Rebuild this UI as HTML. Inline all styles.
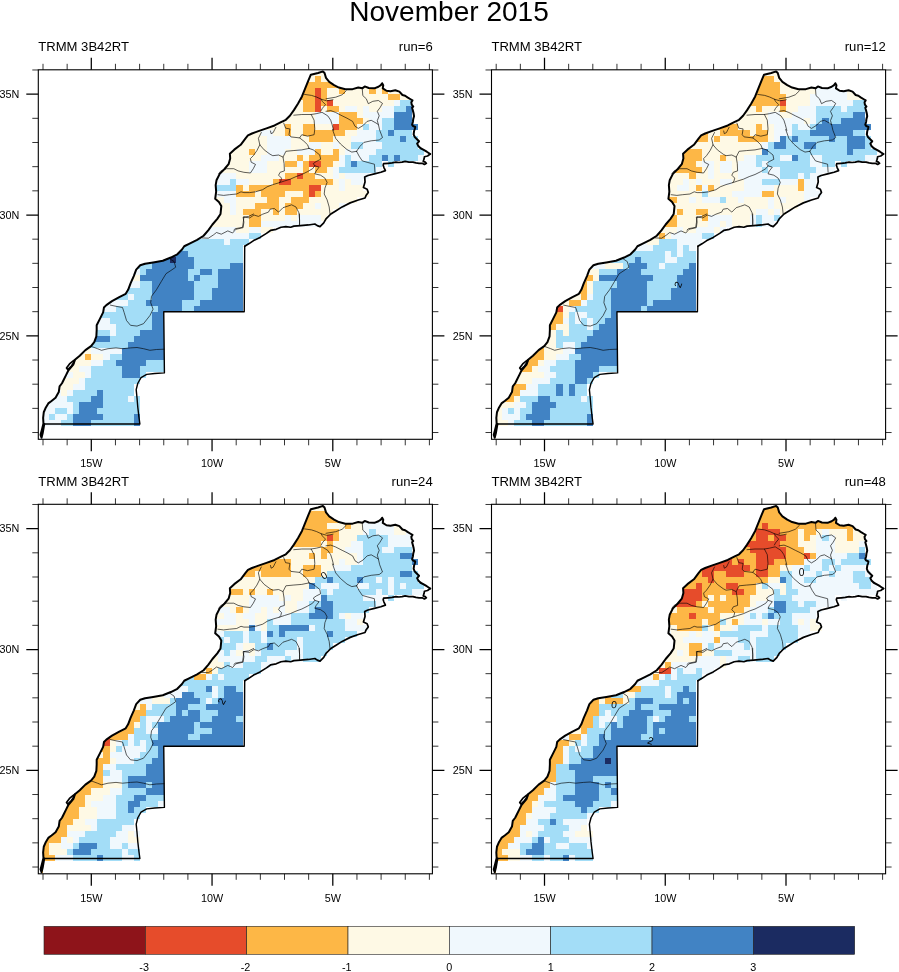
<!DOCTYPE html>
<html><head><meta charset="utf-8"><title>November 2015</title>
<style>html,body{margin:0;padding:0;background:#fff}svg{display:block}text{font-family:"Liberation Sans",Arial,Helvetica,sans-serif;fill:#000}.t{font-size:13.1px}.l{font-size:10.8px}.mj{stroke:#000;stroke-width:1.25;fill:none}.mn{stroke:#000;stroke-width:.8;fill:none}</style></head><body>
<svg width="899" height="972" viewBox="0 0 899 972">
<rect width="899" height="972" fill="#fff"/>
<defs>
<clipPath id="mk"><path d="M41.5,437.7 40.5,434.8 41.8,430 43.5,423.5 43.1,417.9 43.8,412.3 45.9,407.4 48.3,403.4 51.5,401 55.5,397.7 58.8,392.1 59.6,386.5 62,383.2 63.6,380 66,375.2 68.5,370.3 73.3,364.7 74.9,359.8 79.7,355.8 85.4,350.2 91,346.1 94.3,342.1 96.4,336.5 96.7,330 96.7,325.3 99.9,318.8 103.1,312.4 103.9,307.5 106.4,305.1 112,301.1 119.3,297.1 125.7,293.8 128.1,289.8 130.5,283.4 133.8,276.1 136.2,269.6 140.2,265.3 145.1,263.7 153.1,262.4 162.8,260.8 170.9,257.5 177.3,254.3 182,249.5 184.2,246.3 189.1,243.8 197.1,239.8 203.6,235.8 208.4,230.1 212.5,224.5 217.3,218.8 220.5,214 221.3,206.1 218.9,202.1 215.2,198.8 216.2,191.6 215.7,185.1 216.5,180.3 219.7,173.8 224.5,169 228.6,164.2 230.2,158.5 229.9,153.7 234.2,149.6 240.7,144.8 245.5,138.4 247.9,135.5 252,133.5 258.4,131.1 266.5,128.4 274.5,125.5 281,122.2 285.8,119.8 289.9,115.8 293.9,110.1 297.9,103.7 302,96.4 305.2,88.4 308.4,80.3 310.8,74.6 318.1,73 322.9,71.4 324.5,73 326,77.9 329.2,81.9 334.1,85.1 338.9,87.5 345.4,89.2 352.6,89.2 358.3,87.5 362.3,88.4 364.7,86.4 368.7,88 374.4,88.4 378.4,86.7 380.8,85.1 382.1,83.2 383.3,85.1 382.8,88.4 386.5,90.8 390.5,91.3 395.4,90.3 399.4,91.6 402.5,95 405.1,95.8 407.5,97.3 410.5,99.2 412.5,100.4 446,100 446,452 41,452Z"/></clipPath>
<g id="ax"><path class="mn" d="M43,69.8v-6 M43,439.3v6 M67.15,69.8v-6 M67.15,439.3v6 M115.45,69.8v-6 M115.45,439.3v6 M139.6,69.8v-6 M139.6,439.3v6 M163.75,69.8v-6 M163.75,439.3v6 M187.9,69.8v-6 M187.9,439.3v6 M236.2,69.8v-6 M236.2,439.3v6 M260.35,69.8v-6 M260.35,439.3v6 M284.5,69.8v-6 M284.5,439.3v6 M308.65,69.8v-6 M308.65,439.3v6 M356.95,69.8v-6 M356.95,439.3v6 M381.1,69.8v-6 M381.1,439.3v6 M405.25,69.8v-6 M405.25,439.3v6 M429.4,69.8v-6 M429.4,439.3v6 M38.3,432.53h-6 M432.4,432.53h6 M38.3,408.36h-6 M432.4,408.36h6 M38.3,384.19h-6 M432.4,384.19h6 M38.3,360.02h-6 M432.4,360.02h6 M38.3,311.68h-6 M432.4,311.68h6 M38.3,287.51h-6 M432.4,287.51h6 M38.3,263.34h-6 M432.4,263.34h6 M38.3,239.17h-6 M432.4,239.17h6 M38.3,190.83h-6 M432.4,190.83h6 M38.3,166.66h-6 M432.4,166.66h6 M38.3,142.49h-6 M432.4,142.49h6 M38.3,118.32h-6 M432.4,118.32h6 M38.3,69.98h-6 M432.4,69.98h6"/><path class="mj" d="M91.3,69.8v-12 M91.3,439.3v12 M212.05,69.8v-12 M212.05,439.3v12 M332.8,69.8v-12 M332.8,439.3v12 M38.3,335.85h-12 M432.4,335.85h12 M38.3,215h-12 M432.4,215h12 M38.3,94.15h-12 M432.4,94.15h12"/><rect x="38.3" y="69.8" width="394.1" height="369.5" fill="none" stroke="#000" stroke-width="1.1"/></g>
<g id="ol" fill="none" stroke="#000" stroke-linejoin="round" stroke-linecap="round">
<path d="M44.26,424.03 43.77,426.77 42.65,433.23 41.52,437.74 40.55,434.84 41.84,430 43.45,423.55 43.13,417.9 43.77,412.26 45.87,407.42 48.29,403.39 51.52,400.97 55.55,397.74 58.77,392.1 59.58,386.45 62,383.23 63.61,380 66.03,375.16 68.45,370.32 73.29,364.68 74.9,359.84 79.74,355.81 85.39,350.16 91.03,346.13 94.26,342.1 96.35,336.45 96.68,330 96.68,325.29 99.9,318.84 103.13,312.39 103.94,307.55 106.35,305.13 112,301.1 119.26,297.06 125.71,293.84 128.13,289.81 130.55,283.35 133.77,276.1 136.19,269.65 140.23,265.29 145.06,263.68 153.13,262.39 162.81,260.77 170.87,257.55 177.32,254.32 182,249.48 184.23,246.26 189.06,243.84 197.13,239.81 203.58,235.77 208.42,230.13 212.45,224.48 217.29,218.84 220.52,214 221.32,206.1 218.9,202.06 215.19,198.84 216.16,191.58 215.68,185.13 216.48,180.29 219.71,173.84 224.55,169 228.58,164.16 230.19,158.52 229.87,153.68 234.23,149.65 240.68,144.81 245.52,138.35 247.94,135.45 251.97,133.52 258.42,131.1 266.48,128.35 274.55,125.45 281,122.23 285.84,119.81 289.87,115.77 293.9,110.13 297.94,103.68 301.97,96.42 305.19,88.35 308.42,80.29 310.84,74.65 318.1,73.03 322.94,71.42 324.55,73.03 326,77.87 329.23,81.9 334.06,85.13 338.9,87.55 345.35,89.16 352.61,89.16 358.26,87.55 362.29,88.35 364.71,86.42 368.74,88.03 374.39,88.35 378.42,86.74 380.84,85.13 382.13,83.19 383.26,85.13 382.77,88.35 386.48,90.77 390.52,91.26 395.35,90.29 399.39,91.58 402.45,95 405.15,95.77 407.47,97.32 410.55,99.24 412.48,100.4 411.32,102.32 411.71,104.65 413.26,106.58 412.1,107.73 412.87,110.44 413.63,113.52 414.02,116.23 413.26,118.92 412.87,122 412.1,124.71 412.87,125.87 415.18,127.02 414.79,128.95 414.02,131.26 413.63,134.35 414.79,137.05 416.73,138.98 419.03,141.29 417.11,143.61 418.26,145.92 420.58,148.24 423.66,149.79 426.76,151.71 430.23,154.03" stroke-width="2.0"/>
<path d="M430.23,154.03 427.53,155.95 424.44,156.73 424.05,159.05 423.27,161.35 425.21,162.13 426.37,163.29 424.44,164.45 422.13,163.29 419.03,163.29 415.95,162.9 412.87,162.13 409,162.13 405.15,161.35 402.06,162.13 398.97,162.52 395.89,162.13 392.03,162.9 388.18,163.29 383.55,163.68 383.16,165.21 383.94,167.53 385.08,169.84 385.35,170.61 380.84,172.23 374.39,173.84 367.94,175.45 364.71,177.06 365.03,181.9 363.42,187.55 367.13,189.16 368.26,192.39 366,195.61 365.03,198.03 358.26,199.97 350.19,202.87 342.13,206.9 335.68,210.94 330.84,214 326,218.84 323.74,222.87 320.03,226.58 317.29,225.61 314.87,224 308.42,224.97 300.35,225.61 293.9,226.1 290.68,227.23 285.84,226.58 281,227.23 276.16,229.32 270.52,230.45 266.48,233.35 260.03,237.39 253.58,240.61 248.74,243.84 244.71,246.26" stroke-width="1.7"/>
<path d="M244.71,246.26 244.24,311.68 163.75,311.68 164.42,372.9 154.74,373.55 146.68,374.35 141.03,377.58 137.81,383.23 136.19,389.68 137,397.74 137.81,407.42 138.94,417.1 139.9,424.03 44.26,424.03" stroke-width="1.4"/>
<path d="M74.6,359.9 73.2,360.9 69.5,363.9 66.5,367.9 67.7,369.6 71.4,366.1 73.9,362.5Z" stroke-width="1.7"/>
<path d="M293.8,115.2 301.8,114.5 311.2,114.5 314.1,120.2 314.8,128.9 314.1,134.7 307.6,136.2 301.8,134.7 299.6,137.9 M283.7,123.1 285.6,128.2 289.9,128.9 289,134.7 290.9,136.9 299.6,137.9 303.9,141.2 307.6,144.8 309,148.4 M309,148.4 301.8,149.9 293.1,150.6 285.9,151.3 283,157.1 284.1,163.6 284.4,170.9 280.1,172.3 278.6,175.2 281.5,178.1 280.8,181 279.4,182.7 M217.9,194.7 223.7,195.4 229.5,194.7 236.7,194 241,191.8 243.9,192.6 249.7,192.6 255.5,191.8 262.7,189.7 267.1,186.8 272.8,184.6 279.4,182.7 284.4,181 290.2,179.2 296,176.6 301.8,174.5 307.6,171.6 312.6,168.7 314.8,165.8 313.3,163.6 316.2,161.5 320.6,159.3 319.8,155 316.2,152.1 313.3,149.9 309,148.4 M314.8,165.8 319.1,167.2 316.2,170.9 314.8,173.8 320.6,175.2 324.9,178.1 327.1,182.4 324.9,188.2 324.2,194 327.1,199.8 329.2,207 330,214.2 M261.3,132.5 258.4,138.3 259.8,144.8 264.2,149.9 270,154.2 272.8,155.7 278.6,155 283,157.1 M259.8,144.8 256.9,150.6 253.3,155.7 250.4,158.6 251.2,162.2 255.5,164.4 253.3,168.7 250.4,173 243.9,172.3 238.1,170.9 233.8,168.7 226.6,168.7 220.8,170.9 218.6,173.8 M243.9,217.1 249.7,217.9 254,215 258.4,216.4 262.7,214.2 268.5,212.1 270,209.2 274.3,208.5 278.6,212.1 283,207.7 287.3,206.3 291.6,204.8 296,207 298.9,212.8 299.6,220 299.6,224.4 M243.9,217.1 243.2,222.9 242.5,227.3 235.2,228.7 233.8,230 M311.2,114.5 316.2,113.7 322,112.3 327.8,115.9 330.7,120.2 332.1,124.6 333.6,130.4 M304.5,94.4 311.5,95.4 316.4,97 321.2,99.2 326.6,100.8 329.9,100.3 333,99.7 M321.2,99.2 322.3,101.4 325.5,104.6 322.3,108.4 321.2,110.5 M270.5,131 271.1,133.7 273.2,132.6 274.8,129.4 275.9,127.3 M326,111.3 330.8,110.6 335.7,112.5 342.1,115.8 347,118.2 352.6,121.4 355,126.3 358.3,128.4 363.1,125.5 367.1,121.4 371.2,120.3 376,123 378.4,124.6 M362.3,89.2 362.8,95.6 366.3,98.8 368.3,103.7 372.8,101.3 378.4,100.5 382.5,103.4 380,107.7 377.3,111.3 379.2,115.8 377.3,120.6 378.4,124.6 379.7,130.3 382.5,137.5 379.2,140 371.2,140.8 363.9,142.4 359.9,146.4 356.6,151.3 M326,98.8 335.7,97.2 342.1,94.8 346.2,90.8 M356.6,151.3 351.8,152.1 347,149.6 340.5,144 335.7,138.4 332.5,129.5 M356.6,151.3 359.1,156.1 362.3,160.9 367.9,162.5 374.4,164.2 374.9,172.2 M169.3,258.4 174.1,261.6 175.7,267.2 170.9,270.5 166,273.7 161.2,281.7 156.4,289.8 151.5,296.3 150.7,302.7 153.1,309.2 149.9,315.6 143.5,323.7 137,326.1 130.5,325.3 126.5,320.5 124.1,312.4 122.5,307.5 116,306.3 110.4,305.1 M91.8,346.6 97.5,348.7 101.5,350.3 108,348.7 116,347.9 122.5,348.7 130.5,347.9 137,347.5 143.5,348.7 149.9,350.3 156.4,349.5 164.1,349.2 M202,237.9 208.4,238.2 213.3,235 216.5,232.5 221.3,234.2 227.8,230.9 232.6,233 235.8,229.3 243.1,227.7 243.9,222.1 243.1,217.2 248.7,216.4 253.6,214 M299.5,214 299.5,225.3" fill="none" stroke="#000" stroke-width=".7" opacity=".9" stroke-linejoin="round"/>
</g>
</defs>
<text x="449" y="21.3" text-anchor="middle" font-size="28.05">November 2015</text>
<g transform="translate(0,0)">
<g clip-path="url(#mk)" shape-rendering="crispEdges">
<path fill="#FEF9E5" d="M309,69.98H327V76.02H309ZM303,76.02H315V82.06H303ZM303,202.92H315V208.96H303ZM321,76.02H333V82.06H321ZM321,142.49H333V154.57H321ZM351,82.06H369V88.11H351ZM376,82.06H382V94.15H376ZM327,88.11H339V94.15H327ZM345,88.11H369V94.15H345ZM388,88.11H406V94.15H388ZM327,94.15H388V100.19H327ZM400,94.15H412V100.19H400ZM291,100.19H303V112.28H291ZM291,124.36H303V136.45H291ZM333,100.19H394V106.24H333ZM321,106.24H327V112.28H321ZM321,215H327V221.04H321ZM339,106.24H345V112.28H339ZM339,148.53H345V154.57H339ZM339,172.7H345V178.75H339ZM357,106.24H363V118.32H357ZM357,124.36H363V130.41H357ZM369,106.24H382V112.28H369ZM285,112.28H315V118.32H285ZM273,118.32H315V124.36H273ZM363,118.32H369V124.36H363ZM255,124.36H285V130.41H255ZM315,124.36H333V130.41H315ZM315,172.7H333V178.75H315ZM243,130.41H261V136.45H243ZM273,130.41H285V136.45H273ZM345,130.41H357V136.45H345ZM236,136.45H267V142.49H236ZM236,196.87H267V202.92H236ZM291,136.45H309V148.53H291ZM333,136.45H351V142.49H333ZM230,142.49H267V148.53H230ZM339,142.49H351V148.53H339ZM230,148.53H249V154.57H230ZM255,148.53H267V154.57H255ZM285,148.53H297V154.57H285ZM224,154.57H261V160.62H224ZM279,154.57H297V160.62H279ZM303,154.57H309V160.62H303ZM224,160.62H249V166.66H224ZM267,160.62H285V166.66H267ZM333,160.62H339V166.66H333ZM333,178.75H339V184.79H333ZM218,166.66H249V172.7H218ZM267,166.66H303V172.7H267ZM309,166.66H315V172.7H309ZM327,166.66H333V172.7H327ZM236,172.7H285V178.75H236ZM249,178.75H273V184.79H249ZM345,178.75H351V184.79H345ZM243,184.79H249V190.83H243ZM321,184.79H339V190.83H321ZM321,202.92H339V208.96H321ZM345,184.79H363V190.83H345ZM255,190.83H261V196.87H255ZM285,190.83H303V196.87H285ZM321,190.83H369V196.87H321ZM212,196.87H224V202.92H212ZM279,196.87H291V202.92H279ZM309,196.87H357V202.92H309ZM218,202.92H230V215H218ZM236,202.92H255V208.96H236ZM279,202.92H285V215H279ZM236,208.96H243V215H236ZM261,208.96H273V215H261ZM261,227.09H273V233.13H261ZM297,208.96H333V215H297ZM212,215H249V221.04H212ZM261,215H285V221.04H261ZM291,215H297V221.04H291ZM206,221.04H249V227.09H206ZM236,227.09H249V233.13H236ZM128,275.43H140V281.47H128ZM79,347.94H91V353.98H79ZM73,353.98H85V360.02H73ZM73,372.11H85V378.15H73ZM91,353.98H103V360.02H91ZM67,360.02H91V366.06H67ZM67,366.06H79V372.11H67ZM61,378.15H79V384.19H61ZM55,384.19H73V390.23H55ZM61,390.23H67V396.28H61Z"/>
<path fill="#FDB746" d="M315,76.02H321V82.06H315ZM315,148.53H321V154.57H315ZM315,190.83H321V196.87H315ZM303,82.06H345V88.11H303ZM303,130.41H345V136.45H303ZM369,82.06H376V94.15H369ZM382,82.06H388V94.15H382ZM303,88.11H315V94.15H303ZM303,100.19H315V112.28H303ZM303,124.36H315V130.41H303ZM303,172.7H315V178.75H303ZM321,88.11H327V106.24H321ZM339,88.11H345V94.15H339ZM297,94.15H315V100.19H297ZM388,94.15H400V100.19H388ZM327,106.24H339V112.28H327ZM339,112.28H357V118.32H339ZM339,124.36H357V130.41H339ZM339,118.32H363V124.36H339ZM285,124.36H291V136.45H285ZM309,136.45H333V142.49H309ZM249,148.53H255V154.57H249ZM333,148.53H339V154.57H333ZM297,154.57H303V160.62H297ZM309,154.57H339V160.62H309ZM285,160.62H297V166.66H285ZM285,172.7H297V178.75H285ZM285,208.96H297V215H285ZM303,160.62H309V172.7H303ZM303,190.83H309V196.87H303ZM321,160.62H333V166.66H321ZM315,166.66H327V172.7H315ZM273,178.75H279V184.79H273ZM273,208.96H279V215H273ZM291,178.75H333V184.79H291ZM236,184.79H243V190.83H236ZM249,184.79H309V190.83H249ZM236,190.83H255V196.87H236ZM261,190.83H285V196.87H261ZM267,196.87H279V202.92H267ZM291,196.87H309V202.92H291ZM255,202.92H279V208.96H255ZM285,202.92H303V208.96H285ZM243,208.96H261V215H243ZM249,215H261V227.09H249ZM85,353.98H91V360.02H85Z"/>
<path fill="#E64C2B" d="M315,88.11H321V112.28H315ZM327,100.19H333V106.24H327ZM333,124.36H339V130.41H333ZM309,160.62H321V166.66H309ZM309,184.79H321V190.83H309ZM297,172.7H303V178.75H297ZM279,178.75H291V184.79H279ZM309,190.83H315V196.87H309Z"/>
<path fill="#F0F8FD" d="M394,100.19H400V106.24H394ZM345,106.24H357V112.28H345ZM363,106.24H369V112.28H363ZM382,106.24H394V112.28H382ZM315,112.28H339V124.36H315ZM363,112.28H394V118.32H363ZM369,118.32H382V130.41H369ZM261,130.41H273V136.45H261ZM357,130.41H376V136.45H357ZM267,136.45H291V148.53H267ZM351,136.45H376V142.49H351ZM309,142.49H321V148.53H309ZM333,142.49H339V148.53H333ZM333,166.66H339V178.75H333ZM363,142.49H382V148.53H363ZM267,148.53H285V154.57H267ZM297,148.53H315V154.57H297ZM345,148.53H376V154.57H345ZM261,154.57H279V160.62H261ZM339,154.57H345V166.66H339ZM339,178.75H345V190.83H339ZM339,202.92H345V208.96H339ZM351,154.57H369V160.62H351ZM418,154.57H424V160.62H418ZM249,160.62H267V172.7H249ZM297,160.62H303V166.66H297ZM376,166.66H382V172.7H376ZM212,172.7H236V178.75H212ZM212,190.83H236V196.87H212ZM345,172.7H369V178.75H345ZM212,178.75H230V184.79H212ZM236,178.75H249V184.79H236ZM351,178.75H363V184.79H351ZM224,196.87H236V202.92H224ZM230,202.92H236V215H230ZM315,202.92H321V208.96H315ZM285,215H291V221.04H285ZM297,215H321V221.04H297ZM261,221.04H321V227.09H261ZM206,227.09H236V233.13H206ZM249,227.09H261V233.13H249ZM194,233.13H249V239.17H194ZM224,239.17H230V245.21H224ZM134,269.38H140V275.43H134ZM128,281.47H140V287.51H128ZM110,293.55H116V299.6H110ZM110,329.81H116V335.85H110ZM128,293.55H134V299.6H128ZM128,396.28H134V402.32H128ZM103,299.6H128V305.64H103ZM103,305.64H116V311.68H103ZM97,317.72H110V323.77H97ZM91,323.77H116V329.81H91ZM91,347.94H122V353.98H91ZM103,353.98H110V360.02H103ZM91,360.02H103V366.06H91ZM79,366.06H91V372.11H79ZM61,372.11H73V378.15H61ZM85,372.11H91V378.15H85ZM79,378.15H85V384.19H79ZM73,384.19H85V390.23H73ZM55,390.23H61V396.28H55ZM67,390.23H73V396.28H67ZM67,408.36H73V414.4H67ZM49,396.28H67V402.32H49ZM43,402.32H73V408.36H43ZM43,408.36H55V414.4H43ZM43,414.4H49V420.45H43ZM55,414.4H67V420.45H55ZM37,420.45H61V426.49H37ZM37,426.49H43V438.57H37Z"/>
<path fill="#A3DDF7" d="M400,100.19H412V106.24H400ZM394,106.24H406V112.28H394ZM382,118.32H394V130.41H382ZM363,124.36H369V130.41H363ZM376,130.41H388V136.45H376ZM394,130.41H412V136.45H394ZM376,136.45H400V142.49H376ZM406,136.45H418V142.49H406ZM351,142.49H363V148.53H351ZM382,142.49H418V148.53H382ZM376,148.53H424V154.57H376ZM345,154.57H351V166.66H345ZM369,154.57H382V160.62H369ZM388,154.57H394V166.66H388ZM400,154.57H418V160.62H400ZM357,160.62H382V166.66H357ZM339,166.66H376V172.7H339ZM230,178.75H236V184.79H230ZM212,184.79H236V190.83H212ZM249,233.13H261V239.17H249ZM182,239.17H224V245.21H182ZM230,239.17H249V245.21H230ZM176,245.21H243V251.25H176ZM188,251.25H243V257.3H188ZM146,257.3H152V263.34H146ZM194,257.3H243V263.34H194ZM134,263.34H152V269.38H134ZM134,293.55H152V299.6H134ZM194,263.34H230V269.38H194ZM140,269.38H146V275.43H140ZM140,372.11H146V378.15H140ZM188,269.38H200V275.43H188ZM212,269.38H218V275.43H212ZM188,275.43H194V281.47H188ZM200,275.43H218V281.47H200ZM140,281.47H152V287.51H140ZM194,281.47H218V287.51H194ZM122,287.51H152V293.55H122ZM194,287.51H212V299.6H194ZM116,293.55H128V299.6H116ZM128,299.6H146V305.64H128ZM182,299.6H200V305.64H182ZM116,305.64H158V311.68H116ZM182,305.64H194V311.68H182ZM97,311.68H152V317.72H97ZM110,317.72H152V323.77H110ZM116,323.77H152V329.81H116ZM91,329.81H110V335.85H91ZM116,329.81H140V335.85H116ZM110,335.85H134V341.89H110ZM85,341.89H128V347.94H85ZM110,353.98H122V360.02H110ZM103,360.02H116V366.06H103ZM146,360.02H164V366.06H146ZM91,366.06H122V378.15H91ZM140,366.06H164V372.11H140ZM85,378.15H140V384.19H85ZM85,384.19H134V390.23H85ZM73,390.23H97V396.28H73ZM103,390.23H134V396.28H103ZM103,414.4H134V420.45H103ZM67,396.28H91V402.32H67ZM103,396.28H128V402.32H103ZM134,396.28H140V402.32H134ZM73,402.32H79V414.4H73ZM103,402.32H140V408.36H103ZM55,408.36H67V414.4H55ZM97,408.36H140V414.4H97ZM49,414.4H55V420.45H49ZM67,414.4H73V420.45H67ZM61,420.45H73V426.49H61ZM91,420.45H134V426.49H91Z"/>
<path fill="#4183C4" d="M406,106.24H412V112.28H406ZM394,112.28H412V124.36H394ZM394,124.36H418V130.41H394ZM388,130.41H394V136.45H388ZM400,136.45H406V142.49H400ZM382,154.57H388V160.62H382ZM394,154.57H400V160.62H394ZM351,160.62H357V166.66H351ZM170,251.25H188V257.3H170ZM152,257.3H170V263.34H152ZM176,257.3H194V263.34H176ZM152,263.34H194V269.38H152ZM152,281.47H194V299.6H152ZM230,263.34H243V269.38H230ZM146,269.38H188V275.43H146ZM200,269.38H212V275.43H200ZM218,269.38H243V287.51H218ZM140,275.43H188V281.47H140ZM194,275.43H200V281.47H194ZM212,287.51H243V299.6H212ZM146,299.6H182V305.64H146ZM200,299.6H243V305.64H200ZM158,305.64H182V311.68H158ZM194,305.64H243V311.68H194ZM152,311.68H164V329.81H152ZM140,329.81H164V335.85H140ZM91,335.85H110V341.89H91ZM134,335.85H164V341.89H134ZM128,341.89H164V347.94H128ZM122,347.94H164V360.02H122ZM116,360.02H146V366.06H116ZM122,366.06H140V378.15H122ZM97,390.23H103V396.28H97ZM91,396.28H103V402.32H91ZM79,402.32H103V408.36H79ZM79,408.36H97V414.4H79ZM73,414.4H103V420.45H73ZM134,414.4H140V426.49H134ZM73,420.45H91V426.49H73Z"/>
<path fill="#1B2B61" d="M170,257.3H176V263.34H170Z"/>
</g>
<use href="#ol"/>
<use href="#ax"/>
<text class="t" x="38.2" y="51.4">TRMM 3B42RT</text>
<text class="t" x="432.7" y="51.4" text-anchor="end">run=6</text>
<text class="l" x="19.3" y="97.95" text-anchor="end">35N</text>
<text class="l" x="19.3" y="218.8" text-anchor="end">30N</text>
<text class="l" x="19.3" y="339.65" text-anchor="end">25N</text>
<text class="l" x="91.3" y="467.3" text-anchor="middle">15W</text>
<text class="l" x="212.05" y="467.3" text-anchor="middle">10W</text>
<text class="l" x="332.8" y="467.3" text-anchor="middle">5W</text>
</g>
<g transform="translate(453.2,0)">
<g clip-path="url(#mk)" shape-rendering="crispEdges" transform="translate(-0.2,0)">
<path fill="#FEF9E5" d="M309,69.98H327V76.02H309ZM309,106.24H327V112.28H309ZM321,76.02H333V82.06H321ZM327,82.06H345V88.11H327ZM351,82.06H363V88.11H351ZM327,88.11H363V94.15H327ZM394,88.11H406V94.15H394ZM333,94.15H357V106.24H333ZM394,94.15H412V100.19H394ZM291,106.24H303V112.28H291ZM333,106.24H345V112.28H333ZM285,112.28H315V118.32H285ZM327,112.28H339V118.32H327ZM273,118.32H315V124.36H273ZM351,118.32H357V124.36H351ZM285,124.36H303V130.41H285ZM309,124.36H321V130.41H309ZM255,130.41H267V136.45H255ZM297,130.41H303V136.45H297ZM315,130.41H321V142.49H315ZM315,208.96H321V215H315ZM236,136.45H243V142.49H236ZM236,178.75H243V190.83H236ZM255,136.45H261V142.49H255ZM267,136.45H285V142.49H267ZM230,142.49H309V148.53H230ZM249,148.53H309V154.57H249ZM249,154.57H267V160.62H249ZM249,178.75H267V184.79H249ZM273,154.57H291V160.62H273ZM243,160.62H249V166.66H243ZM243,196.87H249V202.92H243ZM261,160.62H267V172.7H261ZM261,227.09H267V233.13H261ZM279,160.62H285V172.7H279ZM249,166.66H255V172.7H249ZM212,172.7H236V178.75H212ZM243,172.7H255V178.75H243ZM261,172.7H285V178.75H261ZM212,178.75H230V184.79H212ZM279,178.75H291V184.79H279ZM212,184.79H224V190.83H212ZM261,184.79H291V190.83H261ZM321,184.79H345V190.83H321ZM321,202.92H345V208.96H321ZM212,190.83H249V196.87H212ZM255,190.83H279V196.87H255ZM321,190.83H351V196.87H321ZM224,196.87H236V202.92H224ZM273,196.87H285V202.92H273ZM291,196.87H315V202.92H291ZM321,196.87H327V202.92H321ZM333,196.87H351V202.92H333ZM218,202.92H315V208.96H218ZM218,208.96H224V215H218ZM230,208.96H243V215H230ZM230,227.09H243V233.13H230ZM255,208.96H303V215H255ZM327,208.96H333V215H327ZM224,215H249V221.04H224ZM279,215H297V227.09H279ZM224,221.04H255V227.09H224ZM267,221.04H273V227.09H267ZM206,227.09H224V233.13H206ZM194,233.13H206V245.21H194ZM212,233.13H218V239.17H212ZM152,257.3H158V263.34H152ZM152,263.34H170V269.38H152ZM134,269.38H146V275.43H134ZM140,275.43H146V281.47H140ZM134,281.47H140V293.55H134ZM110,293.55H128V299.6H110ZM103,299.6H116V305.64H103ZM103,323.77H116V329.81H103ZM110,305.64H116V317.72H110ZM110,329.81H116V335.85H110ZM91,329.81H103V341.89H91ZM91,353.98H103V360.02H91ZM85,341.89H103V347.94H85ZM91,347.94H110V353.98H91ZM85,360.02H91V366.06H85ZM79,366.06H85V372.11H79ZM61,372.11H91V378.15H61ZM61,378.15H79V384.19H61ZM61,396.28H67V402.32H61ZM43,402.32H61V408.36H43ZM43,408.36H49V420.45H43ZM37,420.45H55V426.49H37ZM37,426.49H43V438.57H37Z"/>
<path fill="#FDB746" d="M303,76.02H321V82.06H303ZM303,82.06H327V94.15H303ZM297,94.15H333V100.19H297ZM291,100.19H327V106.24H291ZM303,106.24H309V112.28H303ZM303,124.36H309V130.41H303ZM327,106.24H333V112.28H327ZM255,124.36H285V130.41H255ZM243,130.41H255V142.49H243ZM243,208.96H255V215H243ZM267,130.41H297V136.45H267ZM303,130.41H315V136.45H303ZM261,136.45H267V142.49H261ZM285,136.45H315V142.49H285ZM230,148.53H249V154.57H230ZM224,154.57H249V160.62H224ZM267,154.57H273V160.62H267ZM224,160.62H243V166.66H224ZM218,166.66H249V172.7H218ZM236,172.7H243V178.75H236ZM345,178.75H351V190.83H345ZM243,184.79H249V190.83H243ZM255,184.79H261V190.83H255ZM309,190.83H321V196.87H309ZM212,196.87H224V202.92H212ZM212,215H224V221.04H212ZM224,208.96H230V215H224ZM249,215H255V221.04H249ZM206,221.04H224V227.09H206ZM206,233.13H212V239.17H206ZM128,275.43H140V281.47H128ZM128,281.47H134V287.51H128ZM128,293.55H134V299.6H128ZM122,287.51H134V293.55H122ZM116,299.6H128V305.64H116ZM97,311.68H110V323.77H97ZM91,323.77H103V329.81H91ZM79,347.94H91V353.98H79ZM73,353.98H91V360.02H73ZM67,360.02H85V366.06H67ZM67,366.06H79V372.11H67ZM55,384.19H73V390.23H55ZM55,390.23H67V396.28H55ZM49,396.28H61V402.32H49Z"/>
<path fill="#F0F8FD" d="M363,82.06H388V88.11H363ZM363,88.11H394V94.15H363ZM357,94.15H394V100.19H357ZM357,100.19H400V106.24H357ZM345,106.24H363V112.28H345ZM388,106.24H394V112.28H388ZM315,112.28H327V118.32H315ZM315,166.66H327V172.7H315ZM339,112.28H363V118.32H339ZM315,118.32H351V124.36H315ZM357,118.32H363V124.36H357ZM321,124.36H339V136.45H321ZM345,124.36H357V130.41H345ZM321,136.45H327V142.49H321ZM321,208.96H327V215H321ZM309,142.49H315V148.53H309ZM309,160.62H315V166.66H309ZM291,154.57H303V160.62H291ZM327,154.57H339V160.62H327ZM357,154.57H369V166.66H357ZM357,172.7H369V178.75H357ZM412,154.57H424V160.62H412ZM249,160.62H261V166.66H249ZM267,160.62H279V172.7H267ZM267,178.75H279V184.79H267ZM285,160.62H303V166.66H285ZM255,166.66H261V178.75H255ZM285,166.66H309V172.7H285ZM363,166.66H382V172.7H363ZM285,172.7H327V178.75H285ZM345,172.7H351V178.75H345ZM230,178.75H236V184.79H230ZM243,178.75H249V184.79H243ZM291,178.75H309V184.79H291ZM327,178.75H345V184.79H327ZM351,178.75H363V190.83H351ZM224,184.79H236V190.83H224ZM249,184.79H255V190.83H249ZM291,184.79H321V190.83H291ZM279,190.83H309V196.87H279ZM351,190.83H369V196.87H351ZM236,196.87H243V202.92H236ZM236,245.21H243V251.25H236ZM249,196.87H267V202.92H249ZM285,196.87H291V202.92H285ZM315,196.87H321V208.96H315ZM327,196.87H333V202.92H327ZM351,196.87H357V202.92H351ZM303,208.96H315V215H303ZM255,215H279V221.04H255ZM297,215H303V227.09H297ZM309,215H321V227.09H309ZM255,221.04H267V227.09H255ZM273,221.04H279V227.09H273ZM224,227.09H230V233.13H224ZM224,245.21H230V257.3H224ZM243,227.09H261V233.13H243ZM267,227.09H273V233.13H267ZM218,233.13H249V239.17H218ZM182,239.17H194V245.21H182ZM224,239.17H249V245.21H224ZM182,245.21H200V251.25H182ZM212,251.25H218V257.3H212ZM146,257.3H152V263.34H146ZM212,257.3H224V263.34H212ZM134,263.34H152V269.38H134ZM206,263.34H212V269.38H206ZM134,293.55H140V299.6H134ZM134,317.72H140V329.81H134ZM128,299.6H134V305.64H128ZM128,396.28H134V402.32H128ZM116,305.64H122V311.68H116ZM122,311.68H134V317.72H122ZM110,317.72H116V323.77H110ZM122,317.72H128V323.77H122ZM110,341.89H122V353.98H110ZM103,353.98H116V360.02H103ZM91,360.02H103V366.06H91ZM91,372.11H103V378.15H91ZM85,366.06H97V372.11H85ZM79,378.15H97V384.19H79ZM73,384.19H85V390.23H73ZM67,390.23H85V396.28H67ZM61,402.32H73V408.36H61ZM49,408.36H55V414.4H49ZM61,408.36H67V414.4H61ZM49,414.4H67V420.45H49ZM55,420.45H61V426.49H55Z"/>
<path fill="#E64C2B" d="M327,100.19H333V106.24H327ZM103,305.64H110V311.68H103Z"/>
<path fill="#A3DDF7" d="M400,100.19H412V106.24H400ZM400,130.41H412V136.45H400ZM363,106.24H388V112.28H363ZM394,106.24H412V112.28H394ZM363,112.28H400V118.32H363ZM363,118.32H369V124.36H363ZM376,118.32H388V124.36H376ZM339,124.36H345V130.41H339ZM357,124.36H363V130.41H357ZM339,130.41H357V136.45H339ZM333,136.45H339V142.49H333ZM345,136.45H376V142.49H345ZM382,136.45H394V142.49H382ZM412,136.45H418V148.53H412ZM315,142.49H321V148.53H315ZM333,142.49H351V148.53H333ZM363,142.49H394V148.53H363ZM315,148.53H394V154.57H315ZM400,148.53H424V154.57H400ZM303,154.57H327V160.62H303ZM345,154.57H357V160.62H345ZM369,154.57H412V160.62H369ZM303,160.62H309V166.66H303ZM303,215H309V227.09H303ZM315,160.62H357V166.66H315ZM369,160.62H382V166.66H369ZM388,160.62H394V166.66H388ZM309,166.66H315V172.7H309ZM327,166.66H363V172.7H327ZM327,172.7H345V178.75H327ZM351,172.7H357V178.75H351ZM309,178.75H327V184.79H309ZM249,190.83H255V196.87H249ZM267,196.87H273V202.92H267ZM321,215H327V221.04H321ZM249,233.13H261V239.17H249ZM206,239.17H224V245.21H206ZM176,245.21H182V251.25H176ZM200,245.21H224V251.25H200ZM200,275.43H224V281.47H200ZM230,245.21H236V251.25H230ZM170,251.25H212V257.3H170ZM218,251.25H224V257.3H218ZM230,251.25H243V257.3H230ZM158,257.3H182V263.34H158ZM188,257.3H212V263.34H188ZM224,257.3H243V263.34H224ZM170,263.34H176V269.38H170ZM194,263.34H206V269.38H194ZM212,263.34H236V269.38H212ZM146,269.38H164V275.43H146ZM146,366.06H164V372.11H146ZM188,269.38H230V275.43H188ZM140,281.47H164V287.51H140ZM194,281.47H224V287.51H194ZM140,287.51H158V299.6H140ZM194,287.51H218V299.6H194ZM134,299.6H158V305.64H134ZM134,311.68H158V317.72H134ZM194,299.6H200V305.64H194ZM122,305.64H158V311.68H122ZM188,305.64H194V311.68H188ZM116,311.68H122V323.77H116ZM128,317.72H134V323.77H128ZM140,317.72H152V323.77H140ZM116,323.77H134V329.81H116ZM140,323.77H146V329.81H140ZM140,372.11H146V378.15H140ZM103,329.81H110V335.85H103ZM103,341.89H110V347.94H103ZM116,329.81H140V335.85H116ZM103,335.85H134V341.89H103ZM122,341.89H128V347.94H122ZM116,353.98H128V360.02H116ZM103,360.02H122V366.06H103ZM103,372.11H122V378.15H103ZM97,366.06H122V372.11H97ZM97,378.15H122V384.19H97ZM134,378.15H140V384.19H134ZM134,396.28H140V402.32H134ZM85,384.19H103V396.28H85ZM110,384.19H116V396.28H110ZM122,384.19H134V396.28H122ZM67,396.28H85V402.32H67ZM97,396.28H128V402.32H97ZM73,402.32H79V408.36H73ZM103,402.32H140V408.36H103ZM55,408.36H61V414.4H55ZM67,408.36H79V414.4H67ZM97,408.36H140V414.4H97ZM67,414.4H73V420.45H67ZM97,414.4H134V420.45H97ZM61,420.45H79V426.49H61ZM91,420.45H134V426.49H91Z"/>
<path fill="#4183C4" d="M400,112.28H412V118.32H400ZM369,118.32H376V124.36H369ZM388,118.32H412V124.36H388ZM363,124.36H418V130.41H363ZM357,130.41H400V136.45H357ZM327,136.45H333V142.49H327ZM339,136.45H345V142.49H339ZM339,154.57H345V160.62H339ZM376,136.45H382V142.49H376ZM394,136.45H412V148.53H394ZM321,142.49H333V148.53H321ZM351,142.49H363V148.53H351ZM309,148.53H315V154.57H309ZM394,148.53H400V154.57H394ZM182,257.3H188V263.34H182ZM176,263.34H194V269.38H176ZM236,263.34H243V269.38H236ZM164,269.38H188V275.43H164ZM230,269.38H243V275.43H230ZM146,275.43H200V281.47H146ZM224,275.43H243V287.51H224ZM164,281.47H194V287.51H164ZM158,287.51H194V305.64H158ZM218,287.51H243V299.6H218ZM200,299.6H243V305.64H200ZM158,305.64H188V311.68H158ZM194,305.64H243V311.68H194ZM158,311.68H164V317.72H158ZM152,317.72H164V323.77H152ZM146,323.77H164V329.81H146ZM140,329.81H164V335.85H140ZM134,335.85H164V341.89H134ZM128,341.89H164V347.94H128ZM128,353.98H164V360.02H128ZM122,347.94H164V353.98H122ZM122,360.02H164V366.06H122ZM122,366.06H146V372.11H122ZM122,372.11H140V378.15H122ZM122,378.15H134V384.19H122ZM103,384.19H110V396.28H103ZM116,384.19H122V396.28H116ZM85,396.28H97V402.32H85ZM79,402.32H103V408.36H79ZM79,408.36H97V414.4H79ZM73,414.4H97V420.45H73ZM134,414.4H140V426.49H134ZM79,420.45H91V426.49H79Z"/>
</g>
<text x="224.8" y="288.2" font-size="10.2" text-anchor="middle" transform="rotate(-70 224.8 284.6)">2</text>
<use href="#ol"/>
<use href="#ax"/>
<text class="t" x="38.2" y="51.4">TRMM 3B42RT</text>
<text class="t" x="432.7" y="51.4" text-anchor="end">run=12</text>
<text class="l" x="19.3" y="97.95" text-anchor="end">35N</text>
<text class="l" x="19.3" y="218.8" text-anchor="end">30N</text>
<text class="l" x="19.3" y="339.65" text-anchor="end">25N</text>
<text class="l" x="91.3" y="467.3" text-anchor="middle">15W</text>
<text class="l" x="212.05" y="467.3" text-anchor="middle">10W</text>
<text class="l" x="332.8" y="467.3" text-anchor="middle">5W</text>
</g>
<g transform="translate(0,434.5)">
<g clip-path="url(#mk)" shape-rendering="crispEdges">
<path fill="#FEF9E5" d="M309,69.98H327V76.02H309ZM351,82.06H363V94.15H351ZM327,88.11H345V94.15H327ZM394,88.11H406V100.19H394ZM339,94.15H363V100.19H339ZM339,100.19H357V106.24H339ZM321,106.24H327V112.28H321ZM321,136.45H327V142.49H321ZM333,106.24H351V112.28H333ZM285,112.28H321V118.32H285ZM333,112.28H345V118.32H333ZM279,118.32H309V124.36H279ZM315,118.32H321V124.36H315ZM327,118.32H357V124.36H327ZM291,124.36H339V130.41H291ZM345,124.36H357V130.41H345ZM291,130.41H303V142.49H291ZM291,160.62H303V166.66H291ZM321,130.41H333V136.45H321ZM236,136.45H243V142.49H236ZM236,178.75H243V184.79H236ZM236,215H243V221.04H236ZM255,136.45H261V142.49H255ZM230,142.49H315V148.53H230ZM230,148.53H309V154.57H230ZM243,154.57H249V160.62H243ZM243,172.7H249V178.75H243ZM255,154.57H267V160.62H255ZM255,178.75H267V190.83H255ZM273,154.57H303V160.62H273ZM224,160.62H249V166.66H224ZM279,160.62H285V166.66H279ZM218,166.66H249V172.7H218ZM285,166.66H297V178.75H285ZM230,172.7H236V178.75H230ZM261,172.7H267V178.75H261ZM261,190.83H267V196.87H261ZM273,172.7H279V178.75H273ZM212,178.75H224V184.79H212ZM345,178.75H351V184.79H345ZM236,184.79H249V190.83H236ZM357,184.79H363V190.83H357ZM212,190.83H249V196.87H212ZM243,208.96H255V215H243ZM249,215H255V221.04H249ZM206,221.04H218V227.09H206ZM206,227.09H224V233.13H206ZM194,233.13H206V239.17H194ZM212,233.13H218V239.17H212ZM152,257.3H164V263.34H152ZM152,263.34H170V269.38H152ZM134,269.38H140V275.43H134ZM134,287.51H140V293.55H134ZM110,305.64H116V317.72H110ZM110,323.77H116V329.81H110ZM97,317.72H103V323.77H97ZM103,347.94H122V353.98H103ZM91,353.98H110V360.02H91ZM85,360.02H103V366.06H85ZM85,366.06H91V372.11H85ZM79,372.11H97V384.19H79ZM73,384.19H85V390.23H73ZM67,390.23H91V396.28H67ZM128,396.28H134V402.32H128ZM67,402.32H73V408.36H67ZM128,402.32H140V408.36H128ZM49,408.36H61V414.4H49ZM49,414.4H67V420.45H49Z"/>
<path fill="#FDB746" d="M303,76.02H333V82.06H303ZM303,82.06H345V88.11H303ZM303,88.11H327V94.15H303ZM345,88.11H351V94.15H345ZM297,94.15H339V100.19H297ZM291,100.19H327V106.24H291ZM333,100.19H339V106.24H333ZM291,106.24H321V112.28H291ZM327,106.24H333V112.28H327ZM321,112.28H333V118.32H321ZM273,118.32H279V124.36H273ZM309,118.32H315V124.36H309ZM321,118.32H327V124.36H321ZM255,124.36H291V130.41H255ZM243,130.41H291V136.45H243ZM303,130.41H321V142.49H303ZM243,136.45H255V142.49H243ZM261,136.45H291V142.49H261ZM224,154.57H243V160.62H224ZM249,154.57H255V160.62H249ZM267,154.57H273V160.62H267ZM236,172.7H243V178.75H236ZM206,233.13H212V239.17H206ZM194,239.17H206V245.21H194ZM140,269.38H146V275.43H140ZM128,275.43H146V281.47H128ZM128,281.47H140V287.51H128ZM122,287.51H134V293.55H122ZM110,293.55H134V299.6H110ZM110,299.6H128V305.64H110ZM97,311.68H110V317.72H97ZM103,317.72H110V323.77H103ZM91,323.77H110V329.81H91ZM91,329.81H103V341.89H91ZM85,341.89H103V347.94H85ZM79,347.94H103V353.98H79ZM73,353.98H91V360.02H73ZM67,360.02H85V372.11H67ZM61,372.11H79V384.19H61ZM55,384.19H73V390.23H55ZM55,390.23H67V396.28H55ZM49,396.28H67V402.32H49ZM43,402.32H61V408.36H43ZM43,408.36H49V420.45H43ZM37,420.45H55V426.49H37ZM37,426.49H43V438.57H37Z"/>
<path fill="#F0F8FD" d="M363,82.06H388V88.11H363ZM363,88.11H394V94.15H363ZM363,94.15H369V100.19H363ZM376,94.15H394V100.19H376ZM406,94.15H412V100.19H406ZM388,100.19H412V112.28H388ZM351,106.24H363V112.28H351ZM351,178.75H363V184.79H351ZM345,112.28H363V118.32H345ZM382,112.28H394V118.32H382ZM357,118.32H363V130.41H357ZM339,124.36H345V130.41H339ZM339,178.75H345V184.79H339ZM333,130.41H351V136.45H333ZM376,142.49H382V148.53H376ZM376,154.57H382V160.62H376ZM376,166.66H382V172.7H376ZM388,142.49H394V160.62H388ZM321,148.53H339V154.57H321ZM357,148.53H369V154.57H357ZM400,148.53H406V154.57H400ZM303,154.57H321V166.66H303ZM327,154.57H333V160.62H327ZM412,154.57H424V160.62H412ZM249,160.62H279V166.66H249ZM285,160.62H291V166.66H285ZM363,160.62H382V166.66H363ZM249,166.66H285V172.7H249ZM297,166.66H309V178.75H297ZM212,172.7H230V178.75H212ZM249,172.7H261V178.75H249ZM267,172.7H273V178.75H267ZM279,172.7H285V178.75H279ZM224,178.75H236V184.79H224ZM243,178.75H255V184.79H243ZM267,178.75H291V184.79H267ZM212,184.79H236V190.83H212ZM249,184.79H255V190.83H249ZM273,184.79H291V190.83H273ZM345,184.79H357V190.83H345ZM255,190.83H261V196.87H255ZM255,215H261V221.04H255ZM309,190.83H315V196.87H309ZM345,190.83H369V196.87H345ZM212,196.87H224V202.92H212ZM212,215H224V221.04H212ZM243,196.87H249V208.96H243ZM243,215H249V221.04H243ZM261,196.87H267V208.96H261ZM224,202.92H230V208.96H224ZM297,202.92H303V215H297ZM236,208.96H243V215H236ZM230,215H236V221.04H230ZM285,215H303V221.04H285ZM218,221.04H255V227.09H218ZM267,221.04H285V227.09H267ZM291,221.04H303V227.09H291ZM230,227.09H243V233.13H230ZM261,227.09H273V233.13H261ZM206,239.17H212V245.21H206ZM206,263.34H212V269.38H206ZM218,239.17H224V245.21H218ZM170,251.25H188V257.3H170ZM212,251.25H218V263.34H212ZM146,257.3H152V263.34H146ZM146,269.38H152V275.43H146ZM146,287.51H152V293.55H146ZM164,257.3H182V263.34H164ZM134,263.34H152V269.38H134ZM146,281.47H164V287.51H146ZM146,293.55H158V299.6H146ZM128,299.6H134V311.68H128ZM116,305.64H122V311.68H116ZM140,305.64H146V311.68H140ZM122,311.68H146V317.72H122ZM110,317.72H140V323.77H110ZM116,323.77H134V329.81H116ZM103,329.81H116V335.85H103ZM103,360.02H116V366.06H103ZM110,335.85H122V341.89H110ZM110,353.98H122V360.02H110ZM110,408.36H122V414.4H110ZM103,341.89H122V347.94H103ZM91,366.06H116V372.11H91ZM158,366.06H164V372.11H158ZM97,372.11H116V384.19H97ZM85,384.19H97V390.23H85ZM91,390.23H97V396.28H91ZM122,390.23H134V396.28H122ZM122,420.45H134V426.49H122ZM67,396.28H85V402.32H67ZM116,396.28H128V402.32H116ZM134,396.28H140V402.32H134ZM61,402.32H67V408.36H61ZM73,402.32H79V408.36H73ZM110,402.32H128V408.36H110ZM61,408.36H73V414.4H61ZM128,408.36H140V414.4H128ZM122,414.4H128V420.45H122ZM55,420.45H73V426.49H55Z"/>
<path fill="#A3DDF7" d="M369,94.15H376V100.19H369ZM357,100.19H388V106.24H357ZM363,106.24H388V112.28H363ZM363,112.28H382V118.32H363ZM394,112.28H412V118.32H394ZM394,154.57H412V160.62H394ZM363,118.32H400V124.36H363ZM363,124.36H412V130.41H363ZM351,130.41H412V136.45H351ZM327,136.45H400V142.49H327ZM412,136.45H418V142.49H412ZM315,142.49H327V148.53H315ZM333,142.49H357V148.53H333ZM333,196.87H357V202.92H333ZM363,142.49H376V148.53H363ZM382,142.49H388V148.53H382ZM382,154.57H388V160.62H382ZM394,142.49H418V148.53H394ZM315,148.53H321V154.57H315ZM339,148.53H357V154.57H339ZM369,148.53H388V154.57H369ZM394,148.53H400V154.57H394ZM406,148.53H424V154.57H406ZM321,154.57H327V160.62H321ZM333,154.57H376V160.62H333ZM333,166.66H376V172.7H333ZM327,160.62H363V166.66H327ZM388,160.62H394V166.66H388ZM309,166.66H321V172.7H309ZM309,172.7H315V178.75H309ZM333,172.7H369V178.75H333ZM291,178.75H309V184.79H291ZM333,178.75H339V184.79H333ZM267,184.79H273V190.83H267ZM291,184.79H345V190.83H291ZM267,190.83H279V196.87H267ZM315,190.83H345V196.87H315ZM224,196.87H243V202.92H224ZM249,196.87H261V208.96H249ZM273,196.87H279V202.92H273ZM285,196.87H327V202.92H285ZM218,202.92H224V208.96H218ZM218,251.25H224V263.34H218ZM230,202.92H243V208.96H230ZM267,202.92H297V208.96H267ZM303,202.92H345V208.96H303ZM218,208.96H236V215H218ZM255,208.96H267V215H255ZM255,221.04H267V227.09H255ZM273,208.96H297V215H273ZM303,208.96H333V215H303ZM224,215H230V221.04H224ZM224,227.09H230V233.13H224ZM261,215H285V221.04H261ZM303,215H327V221.04H303ZM285,221.04H291V227.09H285ZM303,221.04H321V227.09H303ZM243,227.09H261V233.13H243ZM218,233.13H261V239.17H218ZM182,239.17H194V245.21H182ZM212,239.17H218V245.21H212ZM212,263.34H218V269.38H212ZM224,239.17H249V245.21H224ZM176,245.21H243V251.25H176ZM188,251.25H206V257.3H188ZM188,269.38H206V275.43H188ZM236,251.25H243V257.3H236ZM236,281.47H243V287.51H236ZM194,257.3H212V263.34H194ZM194,293.55H212V299.6H194ZM170,263.34H176V269.38H170ZM200,263.34H206V269.38H200ZM152,269.38H176V275.43H152ZM146,275.43H176V281.47H146ZM182,275.43H188V281.47H182ZM200,275.43H218V281.47H200ZM140,281.47H146V293.55H140ZM164,281.47H170V287.51H164ZM200,281.47H212V287.51H200ZM152,287.51H158V293.55H152ZM194,287.51H200V293.55H194ZM134,293.55H146V299.6H134ZM134,372.11H146V378.15H134ZM134,299.6H158V305.64H134ZM188,299.6H200V305.64H188ZM122,305.64H128V311.68H122ZM122,341.89H128V353.98H122ZM122,408.36H128V414.4H122ZM134,305.64H140V311.68H134ZM134,420.45H140V426.49H134ZM146,305.64H152V311.68H146ZM146,347.94H152V353.98H146ZM116,311.68H122V317.72H116ZM146,311.68H158V317.72H146ZM140,317.72H158V323.77H140ZM140,366.06H158V372.11H140ZM134,323.77H152V329.81H134ZM116,329.81H146V335.85H116ZM103,335.85H110V341.89H103ZM122,335.85H146V341.89H122ZM122,353.98H146V360.02H122ZM116,360.02H134V366.06H116ZM146,360.02H164V366.06H146ZM116,366.06H128V378.15H116ZM116,378.15H140V384.19H116ZM97,384.19H134V390.23H97ZM97,390.23H122V396.28H97ZM85,396.28H116V402.32H85ZM79,402.32H110V408.36H79ZM73,408.36H79V414.4H73ZM97,408.36H110V414.4H97ZM67,414.4H73V420.45H67ZM91,414.4H122V420.45H91ZM128,414.4H140V420.45H128ZM73,420.45H97V426.49H73ZM103,420.45H122V426.49H103Z"/>
<path fill="#E64C2B" d="M327,100.19H333V106.24H327ZM103,299.6H110V311.68H103Z"/>
<path fill="#4183C4" d="M400,118.32H412V124.36H400ZM400,136.45H412V142.49H400ZM412,124.36H418V130.41H412ZM327,142.49H333V148.53H327ZM327,196.87H333V202.92H327ZM357,142.49H363V148.53H357ZM309,148.53H315V154.57H309ZM321,160.62H327V166.66H321ZM321,166.66H333V172.7H321ZM315,172.7H333V178.75H315ZM309,178.75H333V184.79H309ZM249,190.83H255V196.87H249ZM279,190.83H309V196.87H279ZM267,196.87H273V202.92H267ZM267,208.96H273V215H267ZM279,196.87H285V202.92H279ZM206,251.25H212V257.3H206ZM224,251.25H236V257.3H224ZM182,257.3H194V263.34H182ZM224,257.3H243V263.34H224ZM176,263.34H200V269.38H176ZM218,263.34H243V269.38H218ZM218,275.43H243V281.47H218ZM176,269.38H188V275.43H176ZM206,269.38H243V275.43H206ZM176,275.43H182V281.47H176ZM188,275.43H200V281.47H188ZM170,281.47H200V287.51H170ZM212,281.47H236V287.51H212ZM158,287.51H194V299.6H158ZM200,287.51H243V293.55H200ZM200,299.6H243V305.64H200ZM212,293.55H243V299.6H212ZM158,299.6H188V305.64H158ZM152,305.64H243V311.68H152ZM158,311.68H164V323.77H158ZM152,323.77H164V329.81H152ZM152,347.94H164V353.98H152ZM146,329.81H164V341.89H146ZM146,353.98H164V360.02H146ZM128,341.89H164V347.94H128ZM128,347.94H146V353.98H128ZM134,360.02H146V366.06H134ZM128,366.06H140V372.11H128ZM128,372.11H134V378.15H128ZM79,408.36H97V414.4H79ZM73,414.4H91V420.45H73ZM97,420.45H103V426.49H97Z"/>
</g>
<text x="221.7" y="270.3" font-size="10.2" text-anchor="middle" transform="rotate(-62 221.7 266.7)">2</text>
<text x="324.1" y="144.5" font-size="10.2" text-anchor="middle" transform="rotate(-32 324.1 140.9)">0</text>
<use href="#ol"/>
<use href="#ax"/>
<text class="t" x="38.2" y="51.4">TRMM 3B42RT</text>
<text class="t" x="432.7" y="51.4" text-anchor="end">run=24</text>
<text class="l" x="19.3" y="97.95" text-anchor="end">35N</text>
<text class="l" x="19.3" y="218.8" text-anchor="end">30N</text>
<text class="l" x="19.3" y="339.65" text-anchor="end">25N</text>
<text class="l" x="91.3" y="467.3" text-anchor="middle">15W</text>
<text class="l" x="212.05" y="467.3" text-anchor="middle">10W</text>
<text class="l" x="332.8" y="467.3" text-anchor="middle">5W</text>
</g>
<g transform="translate(453.2,434.5)">
<g clip-path="url(#mk)" shape-rendering="crispEdges" transform="translate(-0.2,0)">
<path fill="#FDB746" d="M309,69.98H327V76.02H309ZM303,76.02H333V82.06H303ZM303,82.06H345V88.11H303ZM351,82.06H388V88.11H351ZM303,88.11H309V94.15H303ZM315,88.11H400V94.15H315ZM297,94.15H303V100.19H297ZM297,130.41H303V136.45H297ZM327,94.15H345V100.19H327ZM327,106.24H345V112.28H327ZM351,94.15H363V100.19H351ZM394,94.15H400V106.24H394ZM291,100.19H303V106.24H291ZM291,124.36H303V130.41H291ZM291,136.45H303V142.49H291ZM291,154.57H303V160.62H291ZM315,100.19H321V106.24H315ZM333,100.19H345V106.24H333ZM351,100.19H357V106.24H351ZM285,112.28H297V118.32H285ZM333,112.28H351V124.36H333ZM273,118.32H303V124.36H273ZM357,118.32H363V124.36H357ZM279,124.36H285V130.41H279ZM279,184.79H285V190.83H279ZM321,124.36H351V130.41H321ZM243,130.41H249V136.45H243ZM243,166.66H249V172.7H243ZM315,130.41H327V142.49H315ZM236,136.45H249V142.49H236ZM236,208.96H249V221.04H236ZM261,136.45H273V142.49H261ZM230,142.49H255V148.53H230ZM261,142.49H315V148.53H261ZM230,148.53H243V154.57H230ZM249,148.53H273V154.57H249ZM285,148.53H303V154.57H285ZM249,154.57H279V160.62H249ZM249,160.62H255V166.66H249ZM261,160.62H267V166.66H261ZM261,190.83H267V196.87H261ZM261,202.92H267V208.96H261ZM273,160.62H297V166.66H273ZM255,166.66H297V172.7H255ZM224,172.7H255V178.75H224ZM261,172.7H291V178.75H261ZM212,178.75H236V184.79H212ZM243,178.75H267V184.79H243ZM212,184.79H249V190.83H212ZM255,184.79H267V190.83H255ZM224,190.83H249V196.87H224ZM212,227.09H218V233.13H212ZM200,239.17H206V245.21H200ZM176,245.21H182V251.25H176ZM170,251.25H188V257.3H170ZM152,257.3H158V263.34H152ZM134,263.34H146V275.43H134ZM152,263.34H170V269.38H152ZM128,275.43H146V281.47H128ZM128,281.47H140V287.51H128ZM122,287.51H140V293.55H122ZM128,293.55H134V299.6H128ZM116,299.6H128V305.64H116ZM103,305.64H116V311.68H103ZM97,311.68H110V323.77H97ZM91,323.77H110V329.81H91ZM91,329.81H103V341.89H91ZM85,341.89H103V347.94H85ZM79,347.94H97V353.98H79ZM73,353.98H91V360.02H73ZM67,360.02H85V366.06H67ZM67,366.06H79V372.11H67ZM61,372.11H79V378.15H61ZM61,378.15H73V384.19H61ZM55,384.19H73V390.23H55ZM55,390.23H67V396.28H55ZM49,396.28H67V402.32H49ZM43,402.32H61V408.36H43ZM43,408.36H55V414.4H43ZM43,414.4H49V420.45H43ZM37,420.45H55V426.49H37ZM37,426.49H43V438.57H37Z"/>
<path fill="#E64C2B" d="M309,88.11H315V94.15H309ZM303,94.15H327V100.19H303ZM303,100.19H315V106.24H303ZM303,130.41H315V142.49H303ZM321,100.19H333V106.24H321ZM291,106.24H327V112.28H291ZM297,112.28H333V118.32H297ZM303,118.32H333V124.36H303ZM351,118.32H357V124.36H351ZM255,124.36H279V130.41H255ZM285,124.36H291V130.41H285ZM303,124.36H321V130.41H303ZM249,130.41H297V136.45H249ZM249,136.45H261V142.49H249ZM273,136.45H291V142.49H273ZM255,142.49H261V148.53H255ZM243,148.53H249V154.57H243ZM273,148.53H285V154.57H273ZM224,154.57H249V166.66H224ZM279,154.57H291V160.62H279ZM218,166.66H243V172.7H218ZM236,178.75H243V184.79H236ZM206,233.13H218V239.17H206Z"/>
<path fill="#FEF9E5" d="M400,88.11H406V94.15H400ZM345,94.15H351V106.24H345ZM345,184.79H351V190.83H345ZM363,94.15H369V100.19H363ZM376,94.15H394V100.19H376ZM400,94.15H412V106.24H400ZM357,100.19H363V106.24H357ZM357,184.79H363V190.83H357ZM382,100.19H394V106.24H382ZM345,106.24H363V112.28H345ZM382,106.24H406V118.32H382ZM351,112.28H363V118.32H351ZM327,130.41H339V136.45H327ZM315,142.49H327V148.53H315ZM303,148.53H309V154.57H303ZM327,148.53H333V160.62H327ZM303,154.57H321V160.62H303ZM255,160.62H261V166.66H255ZM255,172.7H261V178.75H255ZM255,190.83H261V196.87H255ZM267,160.62H273V166.66H267ZM267,221.04H273V233.13H267ZM297,160.62H315V166.66H297ZM249,166.66H255V172.7H249ZM249,184.79H255V190.83H249ZM297,166.66H303V172.7H297ZM212,172.7H224V178.75H212ZM212,190.83H224V196.87H212ZM212,215H224V221.04H212ZM291,172.7H297V178.75H291ZM267,178.75H291V184.79H267ZM273,184.79H279V190.83H273ZM285,184.79H291V190.83H285ZM309,184.79H315V190.83H309ZM267,190.83H279V196.87H267ZM357,190.83H369V196.87H357ZM218,196.87H236V202.92H218ZM218,208.96H236V215H218ZM243,196.87H249V202.92H243ZM261,196.87H267V202.92H261ZM218,202.92H230V208.96H218ZM230,215H236V221.04H230ZM249,215H261V221.04H249ZM206,221.04H243V227.09H206ZM206,227.09H212V233.13H206ZM194,233.13H206V239.17H194ZM146,257.3H152V269.38H146ZM170,257.3H182V263.34H170ZM170,263.34H176V269.38H170ZM116,293.55H128V299.6H116ZM116,305.64H122V311.68H116ZM79,366.06H85V372.11H79ZM73,378.15H79V384.19H73ZM73,396.28H79V402.32H73ZM128,390.23H134V396.28H128ZM122,396.28H140V402.32H122ZM49,414.4H67V420.45H49ZM55,420.45H67V426.49H55Z"/>
<path fill="#F0F8FD" d="M369,94.15H376V100.19H369ZM369,136.45H376V142.49H369ZM363,100.19H369V106.24H363ZM376,100.19H382V106.24H376ZM376,130.41H382V136.45H376ZM363,106.24H382V118.32H363ZM363,166.66H382V172.7H363ZM406,106.24H412V112.28H406ZM363,118.32H394V124.36H363ZM351,124.36H369V130.41H351ZM382,124.36H388V130.41H382ZM339,130.41H351V136.45H339ZM339,142.49H351V148.53H339ZM357,130.41H369V136.45H357ZM357,172.7H369V178.75H357ZM388,130.41H412V136.45H388ZM339,136.45H363V142.49H339ZM339,178.75H363V184.79H339ZM382,136.45H400V142.49H382ZM412,136.45H418V142.49H412ZM363,142.49H400V148.53H363ZM315,148.53H327V154.57H315ZM315,184.79H327V190.83H315ZM339,148.53H406V154.57H339ZM418,148.53H424V154.57H418ZM345,154.57H424V160.62H345ZM315,160.62H321V166.66H315ZM339,160.62H382V166.66H339ZM388,160.62H394V166.66H388ZM303,166.66H321V172.7H303ZM345,166.66H351V172.7H345ZM297,172.7H315V178.75H297ZM297,196.87H315V202.92H297ZM291,178.75H297V184.79H291ZM303,178.75H309V184.79H303ZM291,184.79H309V190.83H291ZM339,184.79H345V190.83H339ZM351,184.79H357V190.83H351ZM279,190.83H285V196.87H279ZM309,190.83H315V196.87H309ZM345,190.83H357V202.92H345ZM212,196.87H218V202.92H212ZM212,251.25H218V263.34H212ZM236,196.87H243V202.92H236ZM249,196.87H261V202.92H249ZM249,233.13H261V239.17H249ZM230,202.92H261V208.96H230ZM267,202.92H285V208.96H267ZM297,202.92H303V215H297ZM297,221.04H303V227.09H297ZM249,208.96H255V215H249ZM261,208.96H291V215H261ZM224,215H230V221.04H224ZM279,215H303V221.04H279ZM243,221.04H267V227.09H243ZM273,221.04H285V227.09H273ZM218,227.09H267V233.13H218ZM218,233.13H224V245.21H218ZM230,233.13H243V239.17H230ZM182,239.17H200V245.21H182ZM206,239.17H212V245.21H206ZM182,245.21H206V251.25H182ZM152,275.43H158V281.47H152ZM146,281.47H164V287.51H146ZM200,281.47H206V287.51H200ZM146,287.51H152V293.55H146ZM110,293.55H116V299.6H110ZM110,311.68H116V329.81H110ZM103,299.6H116V305.64H103ZM103,408.36H116V414.4H103ZM128,299.6H134V311.68H128ZM122,311.68H128V317.72H122ZM97,347.94H103V353.98H97ZM91,353.98H103V360.02H91ZM85,360.02H103V366.06H85ZM85,366.06H91V372.11H85ZM158,366.06H164V372.11H158ZM79,372.11H103V378.15H79ZM79,378.15H97V384.19H79ZM134,378.15H140V384.19H134ZM134,408.36H140V414.4H134ZM73,384.19H85V390.23H73ZM110,384.19H134V390.23H110ZM67,390.23H91V396.28H67ZM116,390.23H128V396.28H116ZM67,396.28H73V402.32H67ZM79,396.28H85V402.32H79ZM110,396.28H122V402.32H110ZM61,402.32H79V408.36H61ZM91,402.32H97V408.36H91ZM91,420.45H97V426.49H91ZM116,402.32H140V408.36H116ZM55,408.36H67V414.4H55ZM67,420.45H79V426.49H67ZM116,420.45H122V426.49H116Z"/>
<path fill="#A3DDF7" d="M369,100.19H376V106.24H369ZM369,130.41H376V136.45H369ZM406,112.28H412V118.32H406ZM394,118.32H406V124.36H394ZM369,124.36H382V130.41H369ZM388,124.36H418V130.41H388ZM351,130.41H357V136.45H351ZM382,130.41H388V136.45H382ZM327,136.45H339V142.49H327ZM327,184.79H339V190.83H327ZM363,136.45H369V142.49H363ZM376,136.45H382V142.49H376ZM400,136.45H412V142.49H400ZM333,142.49H339V154.57H333ZM351,142.49H363V148.53H351ZM351,166.66H363V172.7H351ZM400,142.49H418V148.53H400ZM309,148.53H315V154.57H309ZM309,178.75H315V184.79H309ZM406,148.53H418V154.57H406ZM321,154.57H327V160.62H321ZM333,154.57H345V160.62H333ZM333,166.66H345V172.7H333ZM321,160.62H339V166.66H321ZM321,178.75H339V184.79H321ZM315,172.7H321V178.75H315ZM333,172.7H357V178.75H333ZM297,178.75H303V184.79H297ZM267,184.79H273V190.83H267ZM249,190.83H255V196.87H249ZM285,190.83H309V196.87H285ZM315,190.83H345V202.92H315ZM267,196.87H297V202.92H267ZM285,202.92H297V208.96H285ZM285,221.04H297V227.09H285ZM303,202.92H345V208.96H303ZM255,208.96H261V215H255ZM291,208.96H297V215H291ZM303,208.96H333V215H303ZM261,215H279V221.04H261ZM303,215H327V221.04H303ZM303,221.04H321V227.09H303ZM224,233.13H230V239.17H224ZM243,233.13H249V239.17H243ZM212,239.17H218V245.21H212ZM224,239.17H249V245.21H224ZM206,245.21H243V251.25H206ZM188,251.25H212V257.3H188ZM218,251.25H230V257.3H218ZM236,251.25H243V257.3H236ZM236,281.47H243V287.51H236ZM158,257.3H170V263.34H158ZM182,257.3H212V263.34H182ZM218,257.3H224V263.34H218ZM176,263.34H182V269.38H176ZM200,263.34H224V269.38H200ZM230,263.34H236V269.38H230ZM146,269.38H182V275.43H146ZM188,269.38H206V275.43H188ZM146,275.43H152V281.47H146ZM146,347.94H152V353.98H146ZM158,275.43H176V281.47H158ZM200,275.43H218V281.47H200ZM140,281.47H146V293.55H140ZM164,281.47H170V293.55H164ZM194,281.47H200V299.6H194ZM206,281.47H212V287.51H206ZM206,293.55H212V299.6H206ZM152,287.51H158V293.55H152ZM152,299.6H158V305.64H152ZM134,293.55H158V299.6H134ZM134,299.6H146V311.68H134ZM134,372.11H146V378.15H134ZM188,299.6H200V305.64H188ZM122,305.64H128V311.68H122ZM116,311.68H122V317.72H116ZM128,311.68H140V317.72H128ZM116,317.72H140V323.77H116ZM116,323.77H128V329.81H116ZM103,329.81H116V335.85H103ZM103,335.85H122V360.02H103ZM140,341.89H164V347.94H140ZM158,347.94H164V353.98H158ZM146,353.98H158V360.02H146ZM103,360.02H110V366.06H103ZM103,384.19H110V390.23H103ZM146,360.02H164V366.06H146ZM91,366.06H122V372.11H91ZM140,366.06H158V372.11H140ZM103,372.11H128V378.15H103ZM97,378.15H134V384.19H97ZM85,384.19H97V390.23H85ZM91,390.23H116V396.28H91ZM85,396.28H110V402.32H85ZM79,402.32H85V408.36H79ZM97,402.32H116V408.36H97ZM67,408.36H79V414.4H67ZM91,408.36H103V414.4H91ZM116,408.36H134V414.4H116ZM67,414.4H73V420.45H67ZM91,414.4H140V420.45H91ZM79,420.45H91V426.49H79ZM97,420.45H110V426.49H97ZM122,420.45H140V426.49H122Z"/>
<path fill="#4183C4" d="M406,118.32H412V124.36H406ZM327,142.49H333V148.53H327ZM321,166.66H333V178.75H321ZM315,178.75H321V184.79H315ZM230,251.25H236V257.3H230ZM224,257.3H243V263.34H224ZM182,263.34H200V269.38H182ZM224,263.34H230V269.38H224ZM236,263.34H243V269.38H236ZM182,269.38H188V275.43H182ZM206,269.38H243V275.43H206ZM176,275.43H200V281.47H176ZM218,275.43H243V281.47H218ZM170,281.47H194V293.55H170ZM212,281.47H236V287.51H212ZM158,287.51H164V293.55H158ZM158,323.77H164V329.81H158ZM158,353.98H164V360.02H158ZM200,287.51H243V293.55H200ZM200,299.6H243V305.64H200ZM158,293.55H194V299.6H158ZM200,293.55H206V299.6H200ZM212,293.55H243V299.6H212ZM146,299.6H152V305.64H146ZM158,299.6H188V305.64H158ZM146,305.64H243V311.68H146ZM140,311.68H164V323.77H140ZM128,323.77H152V329.81H128ZM116,329.81H164V335.85H116ZM122,335.85H164V341.89H122ZM122,341.89H140V347.94H122ZM122,366.06H140V372.11H122ZM122,347.94H146V360.02H122ZM152,347.94H158V353.98H152ZM110,360.02H146V366.06H110ZM128,372.11H134V378.15H128ZM97,384.19H103V390.23H97ZM85,402.32H91V408.36H85ZM79,408.36H91V414.4H79ZM73,414.4H91V420.45H73ZM110,420.45H116V426.49H110Z"/>
<path fill="#1B2B61" d="M152,323.77H158V329.81H152Z"/>
</g>
<text x="348.3" y="141.8" font-size="10.2" text-anchor="middle" transform="rotate(0 348.3 138.2)">0</text>
<text x="160.9" y="273.8" font-size="10.2" text-anchor="middle" transform="rotate(8 160.9 270.2)">0</text>
<text x="197.4" y="309.8" font-size="10.2" text-anchor="middle" transform="rotate(18 197.4 306.2)">2</text>
<use href="#ol"/>
<use href="#ax"/>
<text class="t" x="38.2" y="51.4">TRMM 3B42RT</text>
<text class="t" x="432.7" y="51.4" text-anchor="end">run=48</text>
<text class="l" x="19.3" y="97.95" text-anchor="end">35N</text>
<text class="l" x="19.3" y="218.8" text-anchor="end">30N</text>
<text class="l" x="19.3" y="339.65" text-anchor="end">25N</text>
<text class="l" x="91.3" y="467.3" text-anchor="middle">15W</text>
<text class="l" x="212.05" y="467.3" text-anchor="middle">10W</text>
<text class="l" x="332.8" y="467.3" text-anchor="middle">5W</text>
</g>
<rect x="44" y="926.3" width="101.34" height="28" fill="#8E141A" stroke="#222" stroke-width=".6"/>
<rect x="145.34" y="926.3" width="101.34" height="28" fill="#E64C2B" stroke="#222" stroke-width=".6"/>
<rect x="246.68" y="926.3" width="101.34" height="28" fill="#FDB746" stroke="#222" stroke-width=".6"/>
<rect x="348.01" y="926.3" width="101.34" height="28" fill="#FEF9E5" stroke="#222" stroke-width=".6"/>
<rect x="449.35" y="926.3" width="101.34" height="28" fill="#F0F8FD" stroke="#222" stroke-width=".6"/>
<rect x="550.69" y="926.3" width="101.34" height="28" fill="#A3DDF7" stroke="#222" stroke-width=".6"/>
<rect x="652.03" y="926.3" width="101.34" height="28" fill="#4183C4" stroke="#222" stroke-width=".6"/>
<rect x="753.36" y="926.3" width="101.34" height="28" fill="#1B2B61" stroke="#222" stroke-width=".6"/>
<text class="l" x="144.14" y="970.6" text-anchor="middle">-3</text>
<text class="l" x="245.48" y="970.6" text-anchor="middle">-2</text>
<text class="l" x="346.81" y="970.6" text-anchor="middle">-1</text>
<text class="l" x="449.35" y="970.6" text-anchor="middle">0</text>
<text class="l" x="550.69" y="970.6" text-anchor="middle">1</text>
<text class="l" x="652.03" y="970.6" text-anchor="middle">2</text>
<text class="l" x="753.36" y="970.6" text-anchor="middle">3</text>
</svg></body></html>
